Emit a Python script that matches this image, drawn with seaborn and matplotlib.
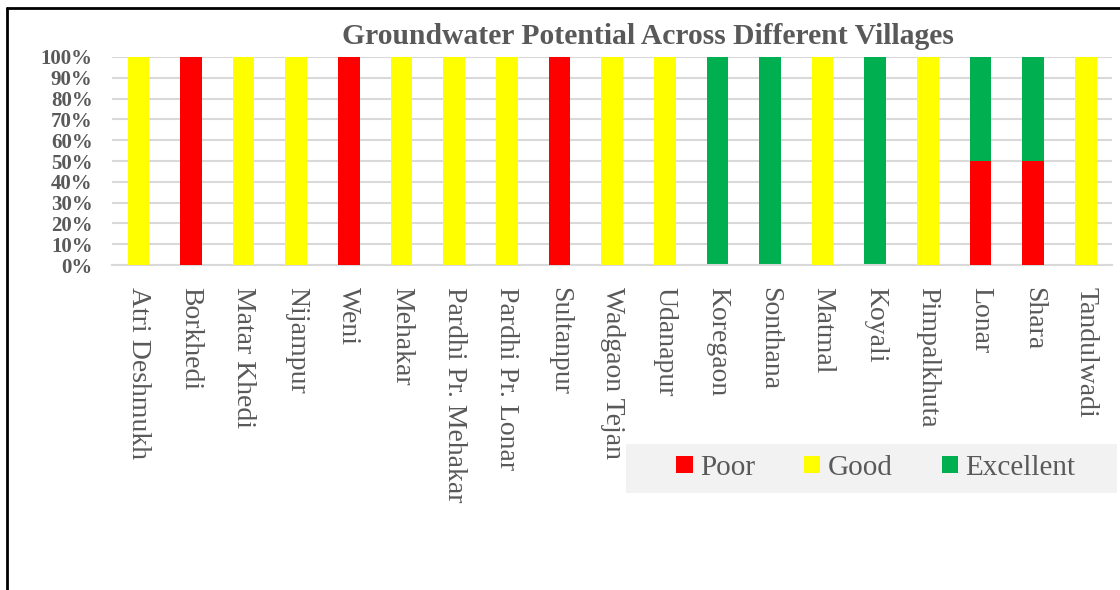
import matplotlib
matplotlib.use("Agg")
import matplotlib.pyplot as plt
from matplotlib.patches import Rectangle, Patch
from matplotlib.lines import Line2D
from matplotlib.ticker import PercentFormatter
import seaborn as sns
import pandas as pd

villages = ["Atri Deshmukh", "Borkhedi", "Matar Khedi", "Nijampur", "Weni", "Mehakar",
            "Pardhi Pr. Mehakar", "Pardhi Pr. Lonar", "Sultanpur", "Wadgaon Tejan", "Udanapur",
            "Koregaon", "Sonthana", "Matmal", "Koyali", "Pimpalkhuta", "Lonar", "Shara", "Tandulwadi"]
poor =      [0, 100, 0, 0, 100, 0, 0, 0, 100, 0, 0, 0, 0, 0, 0, 0, 50, 50, 0]
good =      [100, 0, 100, 100, 0, 100, 100, 100, 0, 100, 100, 0, 0, 100, 0, 100, 0, 0, 100]
excellent = [0, 0, 0, 0, 0, 0, 0, 0, 0, 0, 0, 100, 100, 0, 100, 0, 50, 50, 0]

colors = {"Poor": "#FF0000", "Good": "#FFFF00", "Excellent": "#00B050"}
grey = "#595959"

df = pd.DataFrame({"village": villages, "poor": poor, "good": good, "excellent": excellent})
df["top_excellent"] = df["poor"] + df["good"] + df["excellent"]
df["top_good"] = df["poor"] + df["good"]

sns.set_style("white")
plt.rcParams["font.family"] = ["Liberation Serif", "DejaVu Serif"]

fig = plt.figure(figsize=(11.2, 5.9), dpi=100)
ax = fig.add_axes([0.1, 0.5508, 0.893, 0.3526])

# stacked look: draw cumulative heights, top layer first
sns.barplot(data=df, x="village", y="top_excellent", color=colors["Excellent"],
            width=0.41, ax=ax, saturation=1, linewidth=0, zorder=2)
sns.barplot(data=df, x="village", y="top_good", color=colors["Good"],
            width=0.41, ax=ax, saturation=1, linewidth=0, zorder=3)
sns.barplot(data=df, x="village", y="poor", color=colors["Poor"],
            width=0.41, ax=ax, saturation=1, linewidth=0, zorder=4)

ax.set_ylim(0, 100)
ax.set_xlim(-0.5, len(villages) - 0.5)
ax.set_yticks(range(0, 101, 10))
ax.yaxis.set_major_formatter(PercentFormatter(decimals=0))
ax.grid(axis="y", color="#d9d9d9", lw=1.5, zorder=0)
ax.set_axisbelow(True)
for s in ["top", "right", "left"]:
    ax.spines[s].set_visible(False)
ax.spines["bottom"].set_color("#d9d9d9")
ax.spines["bottom"].set_linewidth(1.5)
ax.set_xlabel("")
ax.set_ylabel("")
ax.tick_params(axis="both", length=0)
ax.tick_params(axis="y", pad=14)
ax.tick_params(axis="x", pad=16)
for lab in ax.get_yticklabels():
    lab.set_fontsize(15)
    lab.set_fontweight("bold")
    lab.set_color(grey)
ax.set_xticks(range(len(villages)))
ax.set_xticklabels(villages, rotation=270, fontsize=20, color=grey, va="top", ha="center")

fig.text(648 / 1120, 1 - 36 / 590, "Groundwater Potential Across Different Villages",
         ha="center", va="center", fontsize=21.3, fontweight="bold", color=grey)

# legend background box
fig.add_artist(Rectangle((626 / 1120, 1 - 493 / 590), 491 / 1120, 49 / 590,
                         transform=fig.transFigure, facecolor="#F2F2F2", edgecolor="none", zorder=1))
handles = [Patch(facecolor=c, edgecolor="none", label=k) for k, c in colors.items()]
leg = fig.legend(handles=handles, loc="center", bbox_to_anchor=(876 / 1120, 1 - 468 / 590),
                 ncol=3, frameon=False, fontsize=21, handlelength=0.55, handleheight=0.55,
                 handletextpad=0.25, columnspacing=1.7)
leg.set_zorder(2)
for t in leg.get_texts():
    t.set_color(grey)

# outer border (top and left)
fig.add_artist(Line2D([7 / 1120, 1.0], [1 - 8 / 590, 1 - 8 / 590], transform=fig.transFigure,
                      color="black", lw=2))
fig.add_artist(Line2D([7 / 1120, 7 / 1120], [0, 1 - 8 / 590], transform=fig.transFigure,
                      color="black", lw=2))

fig.savefig("out.png", dpi=100)
